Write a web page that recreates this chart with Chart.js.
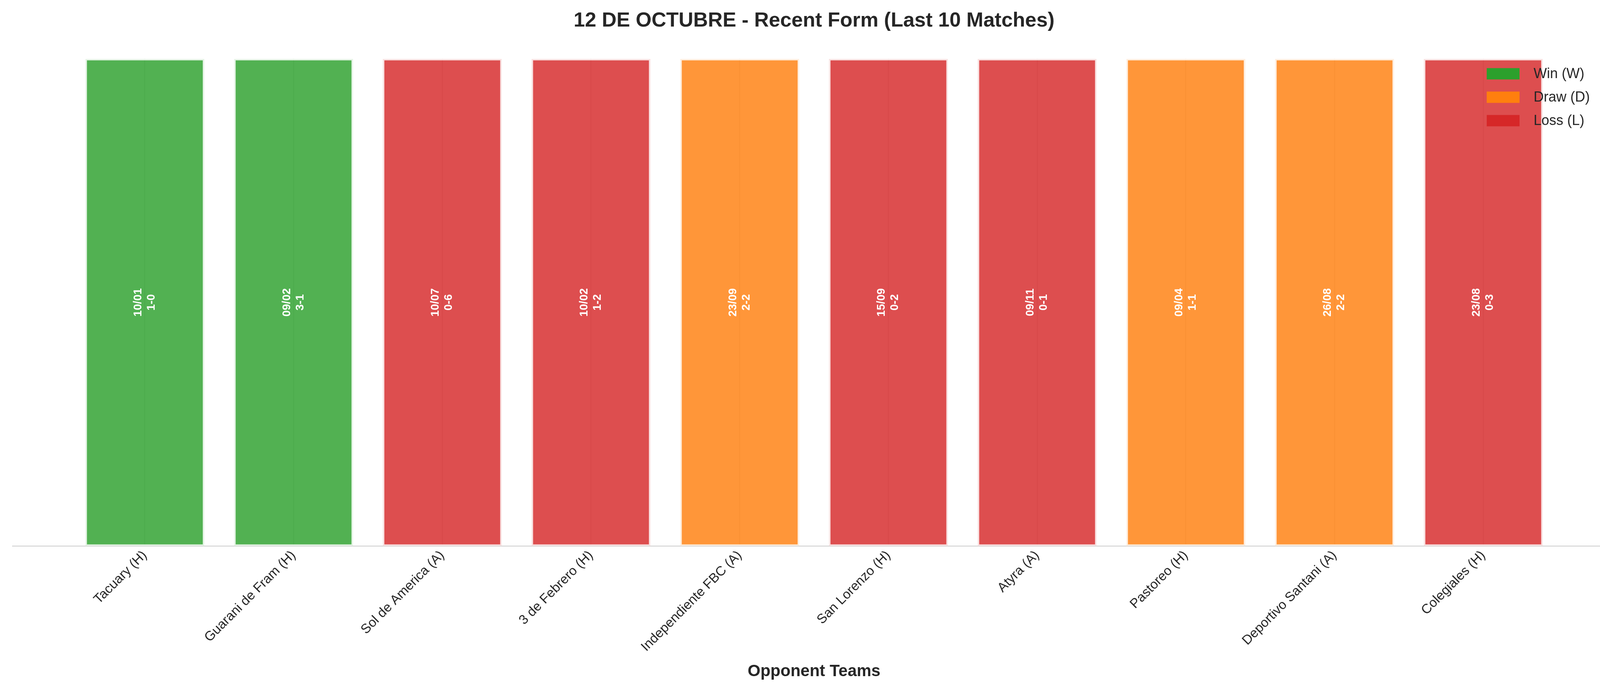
<!DOCTYPE html>
<html>
<head>
<meta charset="utf-8">
<script src="https://cdn.jsdelivr.net/npm/chart.js@4.4.1/dist/chart.umd.min.js"></script>
<style>
  html, body { margin: 0; padding: 0; background: #fff; }
  #wrap { width: 4170px; height: 1769px; }
</style>
</head>
<body>
<div id="wrap"><canvas id="formChart"></canvas></div>
<script>
const opponents = ['Tacuary (H)', 'Guarani de Fram (H)', 'Sol de America (A)', '3 de Febrero (H)',
    'Independiente FBC (A)', 'San Lorenzo (H)', 'Atyra (A)', 'Pastoreo (H)', 'Deportivo Santani (A)', 'Colegiales (H)'];
const dates = ['10/01', '09/02', '10/07', '10/02', '23/09', '15/09', '09/11', '09/04', '26/08', '23/08'];
const scores = ['1-0', '3-1', '0-6', '1-2', '2-2', '0-2', '0-1', '1-1', '2-2', '0-3'];
const results = ['W', 'W', 'L', 'L', 'D', 'L', 'L', 'D', 'D', 'L'];

const kinds = [
    {code: 'W', label: 'Win (W)', solid: '#2ca02c', fill: 'rgba(44,160,44,0.82)', edge: 'rgba(230,244,230,1)'},
    {code: 'D', label: 'Draw (D)', solid: '#ff7f0e', fill: 'rgba(255,127,14,0.82)', edge: 'rgba(255,238,222,1)'},
    {code: 'L', label: 'Loss (L)', solid: '#d62728', fill: 'rgba(214,39,40,0.82)', edge: 'rgba(249,226,226,1)'}
];

const datasets = kinds.map(k => ({
    label: k.label,
    data: results.map((r, i) => r === k.code ? {x: i, y: 1} : null).filter(p => p),
    backgroundColor: k.fill,
    borderColor: k.edge,
    borderWidth: 4,
    borderSkipped: false,
    grouped: false,
    barPercentage: 0.8,
    categoryPercentage: 1.0
}));

const FONT = '"Liberation Sans", Arial, sans-serif';

// etiquetas dentro de las barras y leyenda arriba a la derecha
const barText = {
    id: 'barText',
    afterDatasetsDraw(chart) {
        const ctx = chart.ctx;
        const x = chart.scales.x, y = chart.scales.y;
        ctx.save();
        ctx.fillStyle = '#ffffff';
        ctx.font = 'bold 29px ' + FONT;
        ctx.textAlign = 'center';
        ctx.textBaseline = 'middle';
        results.forEach((r, i) => {
            ctx.save();
            ctx.translate(x.getPixelForValue(i), y.getPixelForValue(0.5));
            ctx.rotate(-Math.PI / 2);
            ctx.fillText(dates[i], 0, -17);
            ctx.fillText(scores[i], 0, 17);
            ctx.restore();
        });
        ctx.restore();
    },
    afterDraw(chart) {
        const ctx = chart.ctx;
        const area = chart.chartArea;
        const left = area.right - 330, top = area.top + 38;
        ctx.save();
        ctx.font = '36px ' + FONT;
        ctx.textBaseline = 'middle';
        kinds.forEach((k, i) => {
            const cy = top + i * 60;
            ctx.fillStyle = k.solid;
            ctx.fillRect(left, cy - 14, 84, 29);
            ctx.fillStyle = '#262626';
            ctx.fillText(k.label, left + 120, cy + 2);
        });
        ctx.restore();
    }
};

new Chart(document.getElementById('formChart'), {
    type: 'bar',
    data: {datasets: datasets},
    plugins: [barText],
    options: {
        responsive: true,
        maintainAspectRatio: false,
        devicePixelRatio: 1,
        animation: false,
        layout: {padding: {left: 32, right: 34, top: 0, bottom: 20}},
        plugins: {
            title: {
                display: true,
                text: '12 DE OCTUBRE - Recent Form (Last 10 Matches)',
                color: '#262626',
                font: {family: FONT, size: 52, weight: 'bold'},
                padding: {top: 22, bottom: 66}
            },
            legend: {display: false},
            tooltip: {enabled: false}
        },
        scales: {
            x: {
                type: 'linear',
                min: -0.89,
                max: 9.89,
                offset: false,
                afterBuildTicks(axis) {
                    axis.ticks = opponents.map((o, i) => ({value: i}));
                },
                ticks: {
                    autoSkip: false,
                    maxRotation: 45,
                    minRotation: 45,
                    padding: 4,
                    color: '#262626',
                    font: {family: FONT, size: 34},
                    callback: (v) => opponents[v]
                },
                grid: {offset: false, color: 'rgba(150,150,150,0.2)', lineWidth: 3, drawTicks: false},
                border: {display: true, color: '#cccccc', width: 2},
                title: {
                    display: true,
                    text: 'Opponent Teams',
                    color: '#262626',
                    font: {family: FONT, size: 42, weight: 'bold'},
                    padding: {top: 14}
                }
            },
            y: {
                min: 0,
                max: 1,
                display: false
            }
        }
    }
});
</script>
</body>
</html>
